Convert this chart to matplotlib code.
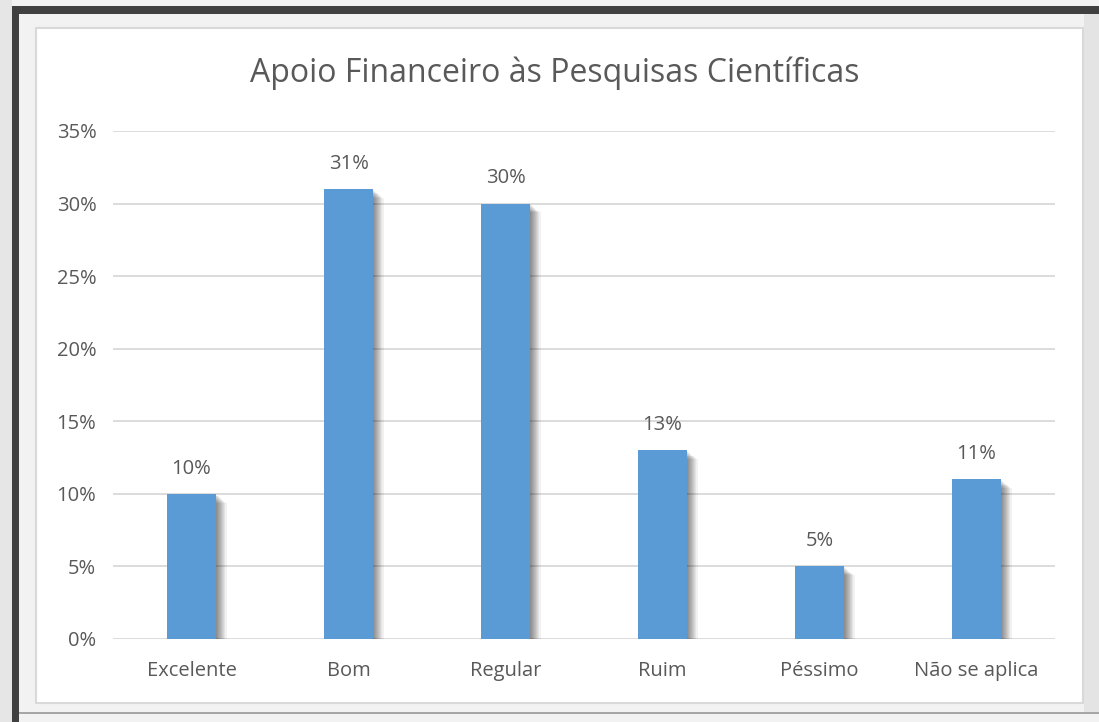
import matplotlib
matplotlib.use("Agg")
import matplotlib.pyplot as plt
from matplotlib.patches import Rectangle

# dados
categorias = ['Excelente', 'Bom', 'Regular', 'Ruim', 'Péssimo', 'Não se aplica']
valores = [0.10, 0.31, 0.30, 0.13, 0.05, 0.11]
rotulos = ['10%', '31%', '30%', '13%', '5%', '11%']
ticks_y = [0.0, 0.05, 0.10, 0.15, 0.20, 0.25, 0.30, 0.35]
ticks_y_txt = ['0%', '5%', '10%', '15%', '20%', '25%', '30%', '35%']

plt.rcParams['font.family'] = ['Open Sans', 'DejaVu Sans']
W, H = 1099, 722
cor_txt = '#595959'

fig = plt.figure(figsize=(W / 100, H / 100), dpi=100, facecolor='#f2f2f2')


def ret(x0, y0, x1, y1, **kw):
    # retangulo em pixels (origem no topo)
    fig.add_artist(Rectangle((x0 / W, 1 - y1 / H), (x1 - x0) / W, (y1 - y0) / H,
                             transform=fig.transFigure, zorder=-1, **kw))


# moldura escura
ret(12, 6, W, 14, facecolor='#404040', edgecolor='none')
ret(12, 6, 19, H, facecolor='#404040', edgecolor='none')
ret(0, 0, 12, H, facecolor='#e6e6e6', edgecolor='none')
ret(19, 712, W, 714, facecolor='#a6a6a6', edgecolor='none')
ret(1084, 14, W, 712, facecolor='#e4e4e4', edgecolor='none')
# area do grafico
ret(36, 28, 1083, 703, facecolor='white', edgecolor='#d9d9d9', linewidth=1.5)

ax = fig.add_axes([113 / W, 1 - 639 / H, (1055 - 113) / W, (639 - 131) / H])
ax.set_facecolor('none')
ax.set_zorder(3)

x = list(range(len(categorias)))
larg = 0.306
px = 1 / 157.0

# sombra
for k in range(1, 11):
    ax.bar([i + k * px * 0.7 for i in x], [v - 0.0006 * k for v in valores],
           width=larg + k * px * 0.8, color='black', alpha=0.055, zorder=2,
           linewidth=0)

ax.bar(x, valores, width=larg, color='#5b9bd5', zorder=3, linewidth=0)

for i, v in enumerate(valores):
    ax.annotate(rotulos[i], (x[i], v), textcoords='offset points', xytext=(0, 11),
                ha='center', va='bottom', fontsize=14.5, color=cor_txt)

ax.set_xlim(-0.5, len(categorias) - 0.5)
ax.set_ylim(0, 0.35)
ax.set_yticks(ticks_y)
ax.set_yticklabels(ticks_y_txt)
ax.set_xticks(x)
ax.set_xticklabels(categorias)
ax.tick_params(axis='both', length=0, labelsize=14.5, labelcolor=cor_txt)
ax.tick_params(axis='y', pad=12)
ax.tick_params(axis='x', pad=16)
ax.grid(axis='y', color='#d9d9d9', linewidth=1.3, zorder=0)
ax.set_axisbelow(True)
for s in ax.spines.values():
    s.set_visible(False)

fig.text(555 / W, 1 - 73 / H, 'Apoio Financeiro às Pesquisas Científicas',
         ha='center', va='center', fontsize=23, color=cor_txt, zorder=4)

fig.savefig('out.png', dpi=100, facecolor=fig.get_facecolor())
